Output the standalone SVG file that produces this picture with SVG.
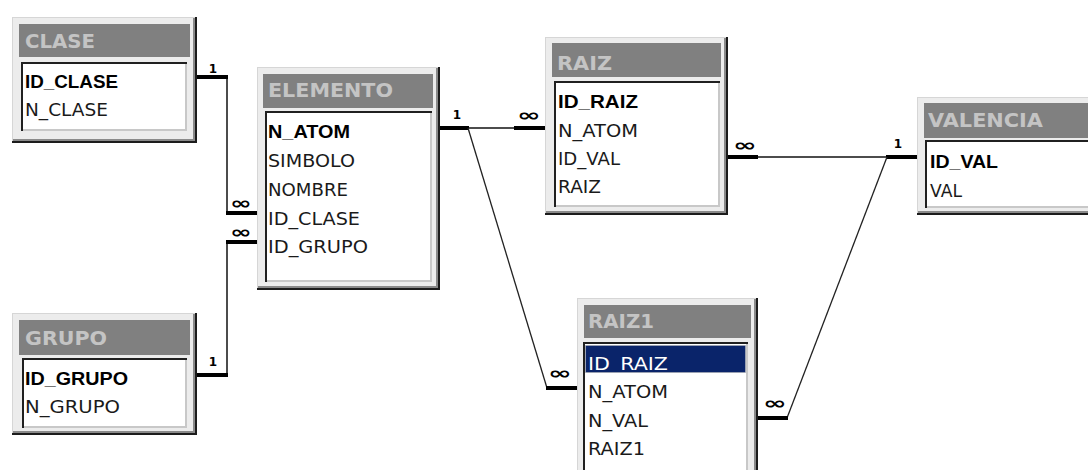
<svg xmlns="http://www.w3.org/2000/svg" width="1088" height="470" viewBox="0 0 1088 470">
<style>
.bg{fill:#ffffff}
.fdark{fill:#1c1c1c}
.flight{fill:#d6d6d6}
.fsh{fill:#8a8a8a}
.face{fill:#ececec}
.tbar{fill:#808080}
.ldark{fill:#202020}
.llight{fill:#c8c8c8}
.lwhite{fill:#ffffff}
.ttl{font-family:"DejaVu Sans",sans-serif;font-weight:bold;font-size:19px;fill:#c4c4c4}
.fld{font-family:"DejaVu Sans",sans-serif;font-size:17px;fill:#1a1a1a}
.key{font-family:"Liberation Sans",sans-serif;font-weight:bold;font-size:18px;fill:#000}
.sel{fill:#0a246a;stroke:#b0b0b0;stroke-width:1;stroke-dasharray:1 1}
.selt{font-family:"DejaVu Sans",sans-serif;font-size:17px;fill:#ffffff}
.stub{stroke:#000;stroke-width:4;fill:none}
.thin{stroke:#111;stroke-width:1.5;fill:none}
.diag{stroke:#222;stroke-width:1.3;fill:none}
.one{font-family:"DejaVu Sans",sans-serif;font-weight:bold;font-size:12px;fill:#000;text-anchor:middle}
.inf{font-family:"DejaVu Sans",sans-serif;font-weight:bold;font-size:17px;fill:#000;text-anchor:middle}
</style>
<rect class="bg" x="0" y="0" width="1088" height="470"/>

<g id="connectors">
  <!-- CLASE -> ELEMENTO -->
  <polyline class="thin" points="227,77 227,213"/>
  <line class="stub" x1="197" y1="77" x2="228" y2="77"/>
  <line class="stub" x1="226" y1="213" x2="257" y2="213"/>
  <text class="one" x="213" y="73">1</text>
  <text class="inf" x="241" y="209" textLength="22" lengthAdjust="spacingAndGlyphs">∞</text>
  <!-- GRUPO -> ELEMENTO -->
  <polyline class="thin" points="227,375 227,242"/>
  <line class="stub" x1="197" y1="375" x2="228" y2="375"/>
  <line class="stub" x1="226" y1="242" x2="257" y2="242"/>
  <text class="one" x="213" y="366">1</text>
  <text class="inf" x="241" y="238" textLength="22" lengthAdjust="spacingAndGlyphs">∞</text>
  <!-- ELEMENTO -> RAIZ -->
  <line class="thin" x1="468" y1="128" x2="515" y2="128"/>
  <line class="stub" x1="440" y1="128" x2="469" y2="128"/>
  <line class="stub" x1="514" y1="128" x2="545" y2="128"/>
  <text class="one" x="457" y="119">1</text>
  <text class="inf" x="529" y="121" textLength="24" lengthAdjust="spacingAndGlyphs">∞</text>
  <!-- ELEMENTO -> RAIZ1 -->
  <line class="diag" x1="468" y1="128" x2="547" y2="388"/>
  <line class="stub" x1="546" y1="388" x2="577" y2="388"/>
  <text class="inf" x="560" y="379" textLength="24" lengthAdjust="spacingAndGlyphs">∞</text>
  <!-- RAIZ -> VALENCIA -->
  <line class="thin" x1="757" y1="157" x2="887" y2="157"/>
  <line class="stub" x1="728" y1="157" x2="758" y2="157"/>
  <line class="stub" x1="886" y1="157" x2="917" y2="157"/>
  <text class="inf" x="745" y="151" textLength="24" lengthAdjust="spacingAndGlyphs">∞</text>
  <text class="one" x="898" y="148">1</text>
  <!-- RAIZ1 -> VALENCIA -->
  <line class="diag" x1="887" y1="157" x2="787" y2="418"/>
  <line class="stub" x1="758" y1="418" x2="788" y2="418"/>
  <text class="inf" x="775" y="409" textLength="24" lengthAdjust="spacingAndGlyphs">∞</text>
</g>

<g id="clase">
  <rect class="fdark" x="12" y="17" width="185" height="126"/>
  <rect class="flight" x="12" y="17" width="183" height="124"/>
  <rect class="fsh" x="13" y="18" width="182" height="123"/>
  <rect class="face" x="13" y="18" width="180" height="121"/>
  <rect class="tbar" x="19" y="24" width="171" height="33"/>
  <text class="ttl" x="25" y="48" textLength="70" lengthAdjust="spacingAndGlyphs">CLASE</text>
  <rect class="ldark" x="21" y="62" width="166" height="69"/>
  <rect class="llight" x="23" y="64" width="164" height="67"/>
  <rect class="lwhite" x="23" y="64" width="162" height="65"/>
  <text class="key" x="25" y="88" textLength="93" lengthAdjust="spacingAndGlyphs">ID_CLASE</text>
  <text class="fld" x="25" y="116" textLength="83" lengthAdjust="spacingAndGlyphs">N_CLASE</text>
</g>

<g id="elemento">
  <rect class="fdark" x="257" y="67" width="183" height="223"/>
  <rect class="flight" x="257" y="67" width="181" height="221"/>
  <rect class="fsh" x="258" y="68" width="180" height="220"/>
  <rect class="face" x="258" y="68" width="178" height="218"/>
  <rect class="tbar" x="263" y="74" width="170" height="34"/>
  <text class="ttl" x="268" y="97" textLength="125" lengthAdjust="spacingAndGlyphs">ELEMENTO</text>
  <rect class="ldark" x="265" y="111" width="167" height="171"/>
  <rect class="llight" x="267" y="113" width="165" height="169"/>
  <rect class="lwhite" x="267" y="113" width="163" height="167"/>
  <text class="key" x="268" y="138" textLength="82" lengthAdjust="spacingAndGlyphs">N_ATOM</text>
  <text class="fld" x="268" y="167" textLength="87" lengthAdjust="spacingAndGlyphs">SIMBOLO</text>
  <text class="fld" x="268" y="196" textLength="80" lengthAdjust="spacingAndGlyphs">NOMBRE</text>
  <text class="fld" x="268" y="225" textLength="92" lengthAdjust="spacingAndGlyphs">ID_CLASE</text>
  <text class="fld" x="268" y="253" textLength="100" lengthAdjust="spacingAndGlyphs">ID_GRUPO</text>
</g>

<g id="raiz">
  <rect class="fdark" x="545" y="37" width="183" height="178"/>
  <rect class="flight" x="545" y="37" width="181" height="176"/>
  <rect class="fsh" x="546" y="38" width="180" height="175"/>
  <rect class="face" x="546" y="38" width="178" height="173"/>
  <rect class="tbar" x="552" y="43" width="169" height="34"/>
  <text class="ttl" x="557" y="70" textLength="55" lengthAdjust="spacingAndGlyphs">RAIZ</text>
  <rect class="ldark" x="554" y="81" width="166" height="126"/>
  <rect class="llight" x="556" y="83" width="164" height="124"/>
  <rect class="lwhite" x="556" y="83" width="162" height="122"/>
  <text class="key" x="558" y="108" textLength="80" lengthAdjust="spacingAndGlyphs">ID_RAIZ</text>
  <text class="fld" x="558" y="137" textLength="80" lengthAdjust="spacingAndGlyphs">N_ATOM</text>
  <text class="fld" x="558" y="165" textLength="62" lengthAdjust="spacingAndGlyphs">ID_VAL</text>
  <text class="fld" x="558" y="193" textLength="43" lengthAdjust="spacingAndGlyphs">RAIZ</text>
</g>

<g id="valencia">
  <rect class="fdark" x="917" y="97" width="183" height="118"/>
  <rect class="flight" x="917" y="97" width="181" height="116"/>
  <rect class="fsh" x="918" y="98" width="180" height="115"/>
  <rect class="face" x="918" y="98" width="178" height="113"/>
  <rect class="tbar" x="924" y="103" width="169" height="35"/>
  <text class="ttl" x="928" y="127" textLength="115" lengthAdjust="spacingAndGlyphs">VALENCIA</text>
  <rect class="ldark" x="925" y="140" width="166" height="68"/>
  <rect class="llight" x="927" y="142" width="164" height="66"/>
  <rect class="lwhite" x="927" y="142" width="162" height="64"/>
  <text class="key" x="930" y="168" textLength="68" lengthAdjust="spacingAndGlyphs">ID_VAL</text>
  <text class="fld" x="930" y="197" textLength="32" lengthAdjust="spacingAndGlyphs">VAL</text>
</g>

<g id="grupo">
  <rect class="fdark" x="12" y="313" width="185" height="122"/>
  <rect class="flight" x="12" y="313" width="183" height="120"/>
  <rect class="fsh" x="13" y="314" width="182" height="119"/>
  <rect class="face" x="13" y="314" width="180" height="117"/>
  <rect class="tbar" x="19" y="320" width="171" height="35"/>
  <text class="ttl" x="25" y="345" textLength="82" lengthAdjust="spacingAndGlyphs">GRUPO</text>
  <rect class="ldark" x="22" y="358" width="165" height="70"/>
  <rect class="llight" x="24" y="360" width="163" height="68"/>
  <rect class="lwhite" x="24" y="360" width="161" height="66"/>
  <text class="key" x="25" y="385" textLength="103" lengthAdjust="spacingAndGlyphs">ID_GRUPO</text>
  <text class="fld" x="25" y="413" textLength="95" lengthAdjust="spacingAndGlyphs">N_GRUPO</text>
</g>

<g id="raiz1">
  <rect class="fdark" x="577" y="298" width="181" height="187"/>
  <rect class="flight" x="577" y="298" width="179" height="185"/>
  <rect class="fsh" x="578" y="299" width="178" height="184"/>
  <rect class="face" x="578" y="299" width="176" height="182"/>
  <rect class="tbar" x="584" y="305" width="167" height="33"/>
  <text class="ttl" x="588" y="328" textLength="66" lengthAdjust="spacingAndGlyphs">RAIZ1</text>
  <rect class="ldark" x="583" y="342" width="165" height="135"/>
  <rect class="llight" x="585" y="344" width="163" height="133"/>
  <rect class="lwhite" x="585" y="344" width="161" height="131"/>
  <rect class="sel" x="585.5" y="345.5" width="160" height="27"/>
  <text class="selt" x="588" y="370" textLength="80" lengthAdjust="spacingAndGlyphs">ID_RAIZ</text>
  <text class="fld" x="588" y="398" textLength="80" lengthAdjust="spacingAndGlyphs">N_ATOM</text>
  <text class="fld" x="588" y="427" textLength="60" lengthAdjust="spacingAndGlyphs">N_VAL</text>
  <text class="fld" x="588" y="455" textLength="57" lengthAdjust="spacingAndGlyphs">RAIZ1</text>
</g>
</svg>
